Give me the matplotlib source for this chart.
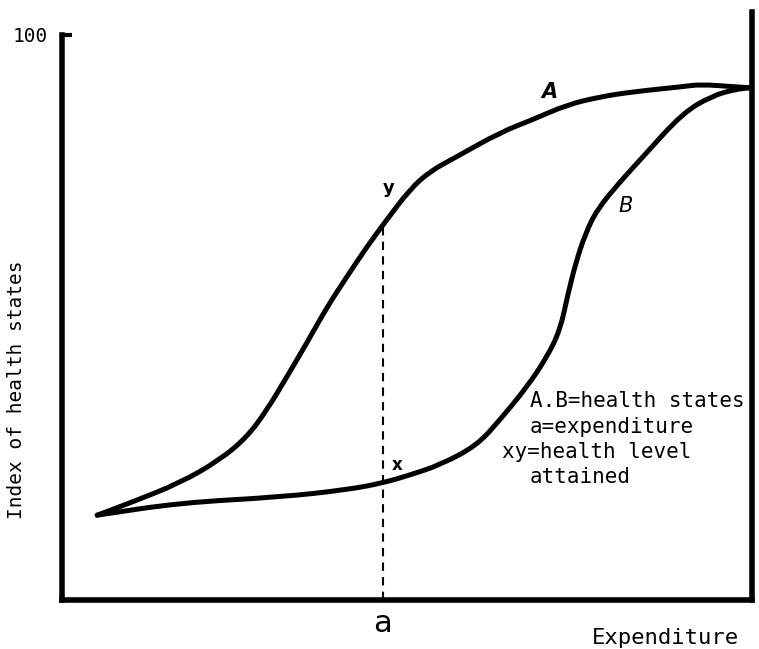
import numpy as np
import matplotlib
matplotlib.use("Agg")
import matplotlib.pyplot as plt
from matplotlib.path import Path
from matplotlib.patches import PathPatch

# curve A (health states, higher curve)
a_x = [5.1, 9.9, 17.1, 22.9, 26.8, 29.7, 32.6, 35.5, 38.4, 41.3, 44.2, 47.1,
       50.4, 53.3, 56.9, 63.5, 68.3, 73.2, 78.0, 82.8, 90.0, 92.5, 97.2, 99.7]
a_y = [15.0, 17.2, 20.7, 24.8, 28.8, 33.6, 39.5, 45.5, 51.8, 57.2, 62.5, 67.3,
       72.6, 75.8, 78.2, 82.7, 85.0, 87.6, 89.0, 89.9, 90.8, 91.2, 90.8, 90.6]

# curve B (health states, lower curve)
b_x = [5.1, 17.1, 31.6, 41.3, 46.5, 50.4, 54.8, 60.1, 63.5, 67.4, 70.3, 72.2,
       73.3, 74.5, 75.8, 77.5, 80.9, 84.2, 90.0, 94.3, 97.5, 99.7]
b_y = [15.0, 17.2, 18.2, 19.5, 20.7, 22.1, 23.9, 27.3, 31.9, 37.7, 43.0, 47.8,
       54.0, 59.8, 64.6, 69.0, 74.0, 78.4, 86.2, 89.2, 90.3, 90.6]

# expenditure level a and health level attained at y
a_exp = 46.5
y_level = 66.3

notes = ["A.B=health states", "a=expenditure", "xy=health level", "attained"]


def smooth_curve(ax, xs, ys, **kw):
    # quadratic bezier through midpoints, read points act as control points
    pts = np.column_stack([xs, ys])
    mids = (pts[:-1] + pts[1:]) / 2
    verts = [pts[0], mids[0]]
    codes = [Path.MOVETO, Path.LINETO]
    for i in range(1, len(pts) - 1):
        verts += [pts[i], mids[i]]
        codes += [Path.CURVE3, Path.CURVE3]
    verts.append(pts[-1])
    codes.append(Path.LINETO)
    ax.add_patch(PathPatch(Path(verts, codes), fill=False, **kw))


fig = plt.figure(figsize=(7.59, 6.49), dpi=100)
ax = fig.add_axes([62 / 759, 49 / 649, 690 / 759, 588 / 649])

smooth_curve(ax, a_x, a_y, edgecolor="black", lw=3.6, capstyle="round", joinstyle="round")
smooth_curve(ax, b_x, b_y, edgecolor="black", lw=3.6, capstyle="round", joinstyle="round")
ax.plot([a_exp, a_exp], [0, y_level], color="black", lw=1.5, ls=(0, (4, 3)))

ax.set_xlim(0, 100)
ax.set_ylim(0, 104)

for s in ["left", "bottom", "right"]:
    ax.spines[s].set_linewidth(4)
ax.spines["top"].set_visible(False)
ax.spines["left"].set_bounds(0, 100)

ax.set_xticks([])
ax.set_yticks([100])
ax.set_yticklabels(["100"], family="DejaVu Sans Mono", fontsize=14)
ax.tick_params(axis="y", direction="in", length=7, width=3, pad=10, right=False)

# curve labels
ax.text(70.7, 89.9, "A", fontsize=15, style="italic", fontweight="bold", ha="center", va="center")
ax.text(81.7, 69.7, "B", fontsize=15, style="italic", ha="center", va="center")
ax.text(47.4, 72.9, "y", fontsize=13, fontweight="bold", ha="center", va="center")
ax.text(48.6, 23.9, "x", fontsize=12, fontweight="bold", ha="center", va="center")
ax.text(a_exp, -4.1, "a", fontsize=22, ha="center", va="center", clip_on=False)

# explanation block
note_x = [67.8, 67.8, 63.8, 67.8]
note_y = [35.2, 30.6, 26.2, 21.8]
for t, nx, ny in zip(notes, note_x, note_y):
    ax.text(nx, ny, t, family="DejaVu Sans Mono", fontsize=15, ha="left", va="center")

fig.text(665 / 759, 1 - 638 / 649, "Expenditure", family="DejaVu Sans Mono",
         fontsize=16, ha="center", va="center")
fig.text(17 / 759, 1 - 390 / 649, "Index of health states", family="DejaVu Sans Mono",
         fontsize=14, rotation=90, ha="center", va="center")

fig.savefig("out.png", dpi=100)
